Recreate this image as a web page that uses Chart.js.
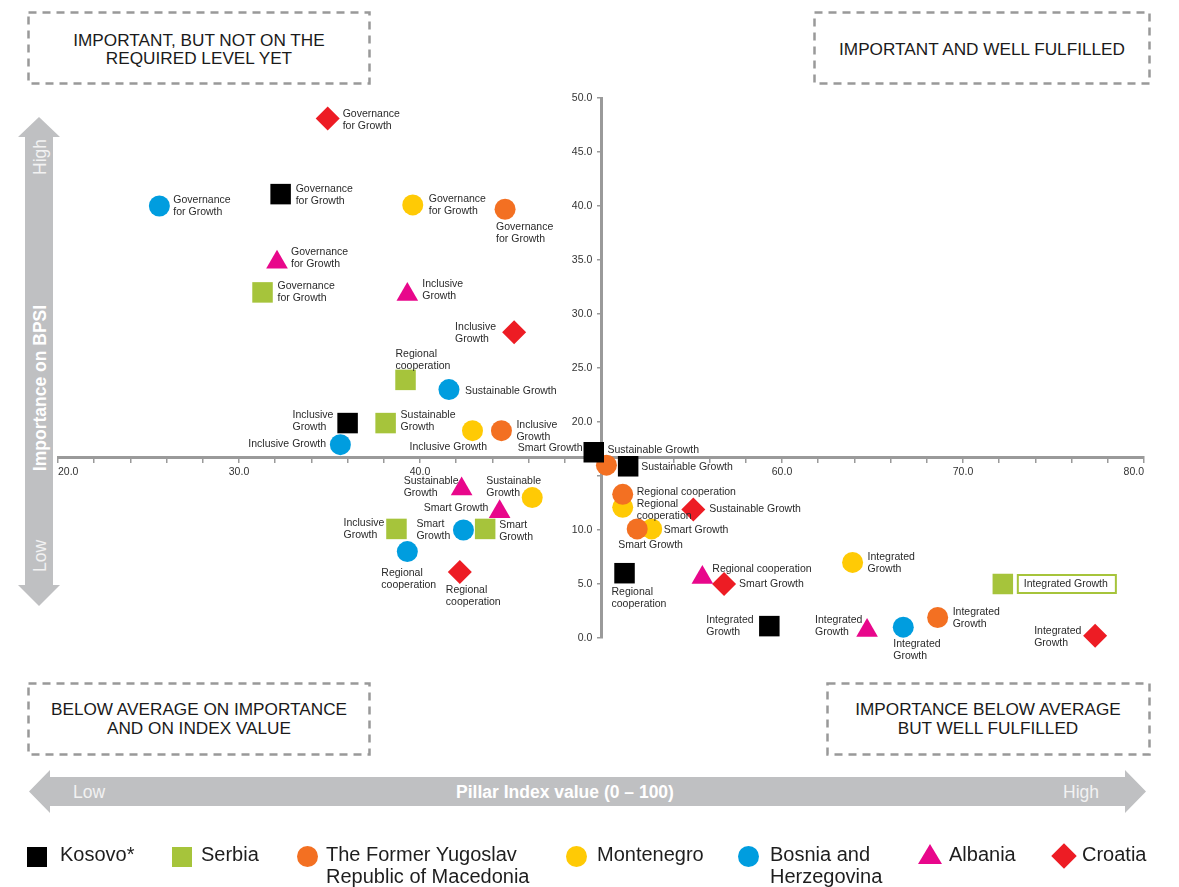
<!DOCTYPE html>
<html>
<head>
<meta charset="utf-8">
<title>BPSI pillars – importance vs index value</title>
<script src="https://cdn.jsdelivr.net/npm/chart.js@4.4.1/dist/chart.umd.min.js"></script>
<style>
  html, body { margin: 0; padding: 0; background: #fff; }
  body { font-family: "Liberation Sans", Arial, sans-serif; }
  #wrap { position: relative; width: 1179px; height: 887px; overflow: hidden; }
  #deco, #chart { position: absolute; left: 0; top: 0; }
  .lg { position: absolute; top: 843px; font-size: 20px; line-height: 22px; color: #1e1e1e; }
  .mk { position: absolute; top: 846px; }
</style>
</head>
<body>
<div id="wrap">
  <svg id="deco" width="1179" height="887" xmlns="http://www.w3.org/2000/svg">
    <g fill="none" stroke="#999" stroke-width="2.5" stroke-dasharray="8 6">
      <rect x="28.5" y="12.5" width="341" height="71"/>
      <rect x="814.5" y="12.5" width="335" height="71"/>
      <rect x="28.5" y="683.5" width="341" height="71"/>
      <rect x="827.5" y="683.5" width="322" height="71"/>
    </g>
    <g font-family="Liberation Sans, Arial, sans-serif" font-size="17.2" fill="#1a1a1a" text-anchor="middle" dominant-baseline="central">
      <text x="199" y="40">IMPORTANT, BUT NOT ON THE</text>
      <text x="199" y="58">REQUIRED LEVEL YET</text>
      <text x="982" y="49">IMPORTANT AND WELL FULFILLED</text>
      <text x="199" y="709">BELOW AVERAGE ON IMPORTANCE</text>
      <text x="199" y="728">AND ON INDEX VALUE</text>
      <text x="988" y="709">IMPORTANCE BELOW AVERAGE</text>
      <text x="988" y="728">BUT  WELL FULFILLED</text>
    </g>
    <polygon fill="#bfc0c2" points="29,791.5 50,770 50,777 1125,777 1125,770 1146,791.5 1125,813 1125,806 50,806 50,813"/>
    <polygon fill="#bfc0c2" points="39,117 60,137 53,137 53,585 60,585 39,606 18,585 25,585 25,137 18,137"/>
    <g font-family="Liberation Sans, Arial, sans-serif" font-size="17.5" dominant-baseline="central">
      <text x="73" y="792" fill="#f2f2f2">Low</text>
      <text x="565" y="792" fill="#fff" font-weight="bold" text-anchor="middle">Pillar Index value (0 – 100)</text>
      <text x="1063" y="792" fill="#f2f2f2">High</text>
      <text transform="translate(40,157) rotate(-90)" fill="#f2f2f2" text-anchor="middle">High</text>
      <text transform="translate(40,388) rotate(-90)" fill="#fff" font-weight="bold" text-anchor="middle">Importance on BPSI</text>
      <text transform="translate(40,556) rotate(-90)" fill="#f2f2f2" text-anchor="middle">Low</text>
    </g>
  </svg>
  <canvas id="chart" width="1179" height="887"></canvas>
  <div id="legend"></div>
</div>
<script>
// pillars, in the same order as every value array below
const pillars = ["Governance for Growth", "Inclusive Growth", "Sustainable Growth", "Smart Growth", "Regional cooperation", "Integrated Growth"];

const countries = ["Kosovo*", "Serbia", "The Former Yugoslav Republic of Macedonia", "Montenegro", "Bosnia and Herzegovina", "Albania", "Croatia"];

// pillar index value (x) and importance on BPSI (y)
const kosovoIndex = [32.3, 36.0, 51.5, 49.6, 51.3, 59.3];
const kosovoImportance = [41.1, 19.9, 15.9, 17.2, 6.0, 1.1];
const serbiaIndex = [31.3, 38.7, 38.1, 43.6, 39.2, 72.2];
const serbiaImportance = [32.0, 10.1, 19.9, 10.1, 23.9, 5.0];
const macedoniaIndex = [44.7, 44.5, 50.3, 52.0, 51.2, 68.6];
const macedoniaImportance = [39.7, 19.2, 16.0, 10.1, 13.3, 1.9];
const montenegroIndex = [39.6, 42.9, 46.2, 52.8, 51.2, 63.9];
const montenegroImportance = [40.1, 19.2, 13.0, 10.1, 12.1, 7.0];
const bosniaIndex = [25.6, 35.6, 41.6, 42.4, 39.3, 66.7];
const bosniaImportance = [40.0, 17.9, 23.0, 10.0, 8.0, 1.0];
const albaniaIndex = [32.1, 39.3, 42.3, 44.4, 55.6, 64.7];
const albaniaImportance = [34.8, 31.8, 13.8, 11.7, 5.6, 0.7];
const croatiaIndex = [34.9, 45.2, 55.1, 56.8, 42.2, 77.3];
const croatiaImportance = [48.1, 28.3, 11.9, 5.0, 6.1, 0.2];

// where the two axes cross
const avgIndex = 50;
const avgImportance = 16.7;

const xTicks = [20, 30, 40, 60, 70, 80];
const yTicks = [0, 5, 10, 20, 25, 30, 35, 40, 45, 50];

const indexValues = [kosovoIndex, serbiaIndex, macedoniaIndex, montenegroIndex, bosniaIndex, albaniaIndex, croatiaIndex];
const importanceValues = [kosovoImportance, serbiaImportance, macedoniaImportance, montenegroImportance, bosniaImportance, albaniaImportance, croatiaImportance];

// look of each country
const colors = ["#000000", "#a6c43b", "#f37022", "#ffca05", "#009ddf", "#e8078b", "#ed1c24"];
const styles = ["rect", "rect", "circle", "circle", "circle", "triangle", "rectRot"];
const radii = [14.5, 14.5, 10.5, 10.5, 10.5, 12.5, 12];

// label offset from the point [dx, dy, two lines?], pillar order
const labelPos = [
  [[15, -5, 1], [-55, -8, 1], [13, 1, 0], [-76, -4, 0], [-13, 19, 1], [-63, -6, 1]],
  [[15, -6, 1], [-53, -6, 1], [15, -8, 1], [14, -4, 1], [-10, -26, 1], [21, 0, 0]],
  [[-9, 18, 1], [15, -6, 1], [1, -15, 0], [-19, 16, 0], [14, -2, 0], [15, -5, 1]],
  [[16, -6, 1], [-63, 16, 0], [-46, -16, 1], [12, 1, 0], [14, -3, 1], [15, -5, 1]],
  [[14, -6, 1], [-92, -1, 0], [16, 2, 0], [-47, -6, 1], [-26, 22, 1], [-10, 17, 1]],
  [[14, -10, 1], [15, -10, 1], [-58, -8, 1], [-76, -4, 0], [10, -8, 0], [-52, -10, 1]],
  [[15, -4, 1], [-59, -5, 1], [16, 0, 0], [15, 0, 0], [-14, 18, 1], [-61, -5, 1]]
];
// the one label with a frame: Serbia, Integrated Growth
const framed = [1, 5];

Chart.defaults.font.family = '"Liberation Sans", Arial, sans-serif';
Chart.defaults.color = '#333';

const datasets = countries.map((name, i) => ({
  label: name,
  data: indexValues[i].map((x, j) => ({ x: x, y: importanceValues[i][j] })),
  pointStyle: styles[i],
  pointRadius: radii[i],
  pointHoverRadius: radii[i],
  backgroundColor: colors[i],
  borderColor: colors[i],
  borderWidth: 0,
  showLine: false,
  clip: false
}));

const pointLabels = {
  id: 'pointLabels',
  afterDatasetsDraw(chart) {
    const ctx = chart.ctx;
    ctx.save();
    ctx.font = '10.5px "Liberation Sans", Arial, sans-serif';
    ctx.textBaseline = 'middle';
    ctx.textAlign = 'left';
    chart.data.datasets.forEach((ds, i) => {
      chart.getDatasetMeta(i).data.forEach((pt, j) => {
        const [dx, dy, wrap] = labelPos[i][j];
        const name = pillars[j];
        const cut = name.indexOf(' ');
        const lines = wrap ? [name.slice(0, cut), name.slice(cut + 1)] : [name];
        const tx = pt.x + dx;
        const ty = pt.y + dy;
        if (framed[0] === i && framed[1] === j) {
          const w = ctx.measureText(name).width;
          ctx.strokeStyle = colors[i];
          ctx.lineWidth = 2;
          ctx.strokeRect(tx - 6, ty - 9, w + 14, 18);
        }
        ctx.fillStyle = '#2a2a2a';
        lines.forEach((ln, k) => ctx.fillText(ln, tx, ty + k * 12));
      });
    });
    ctx.restore();
  }
};

const axisColor = '#9a9a9a';

new Chart(document.getElementById('chart'), {
  type: 'scatter',
  data: { datasets: datasets },
  options: {
    responsive: false,
    animation: false,
    events: [],
    layout: { padding: { left: 58, right: 35, top: 98, bottom: 249 } },
    plugins: {
      legend: { display: false },
      tooltip: { enabled: false }
    },
    scales: {
      x: {
        type: 'linear',
        min: 20,
        max: 80,
        position: { y: avgImportance },
        border: { color: axisColor, width: 3 },
        grid: { drawOnChartArea: false, drawTicks: true, tickLength: 4, color: axisColor, lineWidth: 1.5 },
        ticks: {
          stepSize: 2,
          autoSkip: false,
          maxRotation: 0,
          align: 'inner',
          padding: 4,
          font: { size: 10.5 },
          color: '#333',
          callback: v => xTicks.includes(v) ? v.toFixed(1) : ''
        }
      },
      y: {
        type: 'linear',
        min: 0,
        max: 50,
        position: { x: avgIndex },
        border: { color: axisColor, width: 3 },
        grid: { drawOnChartArea: false, drawTicks: true, tickLength: 3, color: axisColor, lineWidth: 1.5 },
        ticks: {
          stepSize: 5,
          autoSkip: false,
          font: { size: 10.5 },
          color: '#333',
          // trailing spaces keep the right-aligned labels clear of the axis line
          callback: v => yTicks.includes(v) ? v.toFixed(1) + '   ' : ''
        }
      }
    }
  },
  plugins: [pointLabels]
});

// legend
const legendMarkX = [27, 172, 297, 566, 738, 918, 1051];
const legendTextX = [60, 201, 326, 597, 770, 949, 1082];
const legendWidth = [110, 90, 230, 130, 125, 90, 90];

const legend = document.getElementById('legend');
countries.forEach((name, i) => {
  const mk = document.createElement('div');
  mk.className = 'mk';
  mk.style.left = legendMarkX[i] + 'px';
  if (styles[i] === 'rect') {
    Object.assign(mk.style, { width: '20px', height: '20px', background: colors[i], top: '847px' });
  } else if (styles[i] === 'circle') {
    Object.assign(mk.style, { width: '21px', height: '21px', borderRadius: '50%', background: colors[i] });
  } else if (styles[i] === 'triangle') {
    Object.assign(mk.style, {
      width: 0, height: 0, top: '844px',
      borderLeft: '12px solid transparent', borderRight: '12px solid transparent',
      borderBottom: '20px solid ' + colors[i]
    });
  } else {
    Object.assign(mk.style, {
      width: '18px', height: '18px', background: colors[i],
      left: (legendMarkX[i] + 4) + 'px', top: '847px', transform: 'rotate(45deg)'
    });
  }
  legend.appendChild(mk);

  const tx = document.createElement('div');
  tx.className = 'lg';
  tx.style.left = legendTextX[i] + 'px';
  tx.style.width = legendWidth[i] + 'px';
  tx.textContent = name;
  legend.appendChild(tx);
});
</script>
</body>
</html>
